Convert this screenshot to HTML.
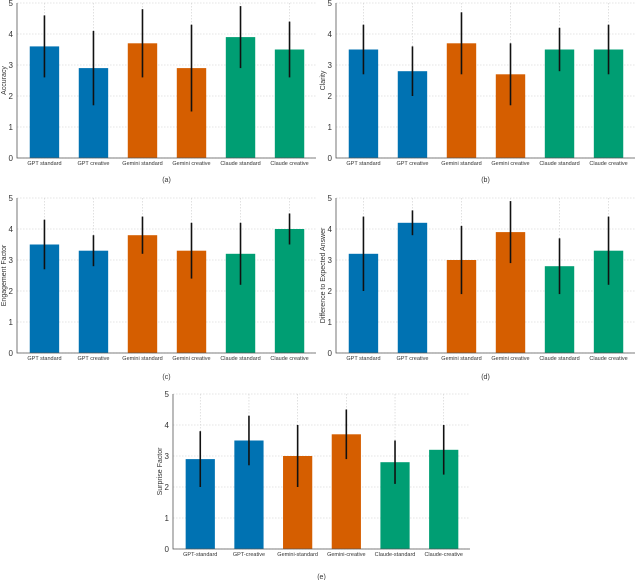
<!DOCTYPE html>
<html><head><meta charset="utf-8">
<style>
html,body{margin:0;padding:0;background:#fff;}
svg{display:block;font-family:"Liberation Sans",sans-serif;}
</style></head>
<body>
<svg id="fig" width="640" height="580" viewBox="0 0 640 580"></svg>
<script>
const catsSpaced = ["GPT standard","GPT creative","Gemini standard","Gemini creative","Claude standard","Claude creative"];
const catsHyphen = ["GPT-standard","GPT-creative","Gemini-standard","Gemini-creative","Claude-standard","Claude-creative"];
const yTicks = [0,1,2,3,4,5];
const accMean = [3.6,2.9,3.7,2.9,3.9,3.5];
const accErr  = [1.0,1.2,1.1,1.4,1.0,0.9];
const claMean = [3.5,2.8,3.7,2.7,3.5,3.5];
const claErr  = [0.8,0.8,1.0,1.0,0.7,0.8];
const engMean = [3.5,3.3,3.8,3.3,3.2,4.0];
const engErr  = [0.8,0.5,0.6,0.9,1.0,0.5];
const difMean = [3.2,4.2,3.0,3.9,2.8,3.3];
const difErr  = [1.2,0.4,1.1,1.0,0.9,1.1];
const surMean = [2.9,3.5,3.0,3.7,2.8,3.2];
const surErr  = [0.9,0.8,1.0,0.8,0.7,0.8];
const colors = ["#0072B2","#0072B2","#D55E00","#D55E00","#009E73","#009E73"];

const NS="http://www.w3.org/2000/svg";
const svg=document.getElementById('fig');
function mk(tag,attrs,parent){const e=document.createElementNS(NS,tag);for(const k in attrs)e.setAttribute(k,attrs[k]);(parent||svg).appendChild(e);return e;}

const panels=[
 {id:"a",x0:17,x1:316,y0:3,y1:158,cap:180,ylabel:"Accuracy",cats:catsSpaced,m:accMean,e:accErr},
 {id:"b",x0:336,x1:635,y0:3,y1:158,cap:180,ylabel:"Clarity",cats:catsSpaced,m:claMean,e:claErr},
 {id:"c",x0:17,x1:316,y0:198,y1:353,cap:377,ylabel:"Engagement Factor",cats:catsSpaced,m:engMean,e:engErr},
 {id:"d",x0:336,x1:635,y0:198,y1:353,cap:377,ylabel:"Difference to Expected Answer",cats:catsSpaced,m:difMean,e:difErr},
 {id:"e",x0:173,x1:470,y0:394,y1:549,cap:577,ylabel:"Surprise Factor",cats:catsHyphen,m:surMean,e:surErr}
];

panels.forEach(p=>{
  const g=mk('g',{});
  
  
  const ys=v=>p.y1-(v/5)*(p.y1-p.y0);
  const step=(p.x1-p.x0)/6.1;
  const xs=i=>p.x0+step*(0.56+i);
  const bw=step*0.6;
  // grid
  yTicks.forEach(t=>{
    const l=mk('line',{x1:p.x0,x2:p.x1,y1:ys(t),y2:ys(t),stroke:"#ccc","stroke-width":0.6,"stroke-dasharray":"1.5,1.5"},g);
    
    
    const tx=mk('text',{x:p.x0-4,y:ys(t)+3,"font-size":8,fill:"#333","text-anchor":"end"},g);
    tx.textContent=t;
    
    
  });
  p.cats.forEach((c,i)=>{
    const l=mk('line',{x1:xs(i),x2:xs(i),y1:p.y0,y2:p.y1,stroke:"#ccc","stroke-width":0.6,"stroke-dasharray":"1.5,1.5"},g);
    
    
  });
  // bars
  p.m.forEach((v,i)=>{
    const r=mk('rect',{x:xs(i)-bw/2,y:ys(v),width:bw,height:ys(0)-ys(v),fill:colors[i]},g);
    
    
    const eb=mk('line',{x1:xs(i),x2:xs(i),y1:ys(v+p.e[i]),y2:ys(v-p.e[i]),stroke:"#111","stroke-width":1.6},g);
    
    
    const tl=mk('text',{x:xs(i),y:p.y1+7,"font-size":5.5,fill:"#333","text-anchor":"middle"},g);
    tl.textContent=p.cats[i];
    
    
  });
  // axes
  const ax=mk('path',{d:`M${p.x0},${p.y0} V${p.y1} H${p.x1}`,fill:"none",stroke:"#555","stroke-width":0.8},g);
  
  
  const yl=mk('text',{x:0,y:0,"font-size":7,fill:"#333","text-anchor":"middle",transform:`translate(${p.x0-11},${(p.y0+p.y1)/2}) rotate(-90)`},g);
  yl.textContent=p.ylabel;
  
  
  const cp=mk('text',{x:(p.x0+p.x1)/2,y:p.cap+2,"font-size":7,fill:"#333","text-anchor":"middle"},g);
  cp.textContent="("+p.id+")";
  
  
});
</script>
</body></html>
